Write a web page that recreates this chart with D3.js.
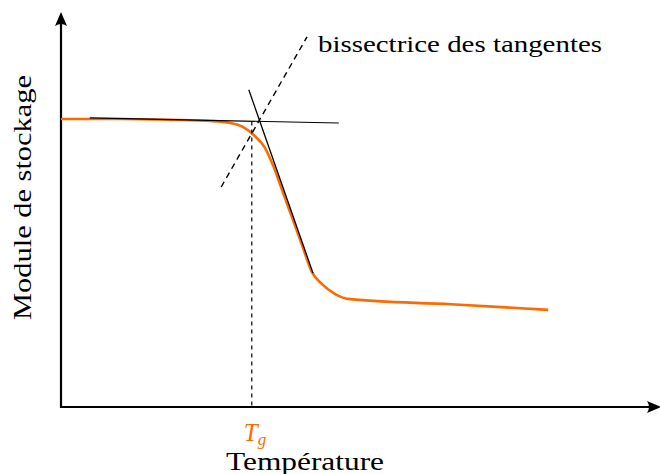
<!DOCTYPE html>
<html><head><meta charset="utf-8">
<script src="https://cdn.jsdelivr.net/npm/d3@7"></script>
<style>body{margin:0;background:#fff}svg{display:block}text{font-family:"Liberation Serif","Times New Roman",Times,serif}</style>
</head><body>
<svg id="c" width="660" height="474"></svg>
<script>
// Data (arbitrary units: temperature 0..10, modulus 0..10)
const curveX = [0, 1.0, 1.82, 2.5, 2.82, 3.03, 3.23, 3.40, 3.53, 3.70, 3.85, 4.02, 4.18, 4.35, 4.57, 4.82, 6.5, 8.12];
const curveY = [7.29, 7.29, 7.27, 7.24, 7.19, 7.09, 6.86, 6.56, 6.13, 5.43, 4.80, 4.09, 3.42, 3.11, 2.86, 2.73, 2.60, 2.46];
const tangent1X = [0.48, 4.63], tangent1Y = [7.32, 7.19];
const tangent2X = [3.13, 4.20], tangent2Y = [8.03, 3.39];
const bisectX = [2.67, 4.10], bisectY = [5.57, 9.37];
const tgX = 3.18, tgY = 7.23;
const xLabel = "Température", yLabel = "Module de stockage";
const bisectLabel = "bissectrice des tangentes";

const svg = d3.select("#c");
const x = d3.scaleLinear().domain([0, 10]).range([61, 661]);
const y = d3.scaleLinear().domain([0, 10]).range([407, 12]);
const orange = "#ff6a00";

// axes
svg.append("line").attr("x1", x(0)).attr("x2", x(10) - 6).attr("y1", y(0)).attr("y2", y(0))
  .attr("stroke", "#000").attr("stroke-width", 2.2);
svg.append("line").attr("x1", x(0)).attr("x2", x(0)).attr("y1", y(0) + 1).attr("y2", y(10) + 6)
  .attr("stroke", "#000").attr("stroke-width", 2.2);
// arrow heads (stealth)
const ax = x(10), ay = y(0);
svg.append("path").attr("d", `M${ax},${ay} L${ax-14},${ay-6} Q${ax-10},${ay} ${ax-14},${ay+6} Z`).attr("fill", "#000");
const bx = x(0), by = y(10);
svg.append("path").attr("d", `M${bx},${by} L${bx-6},${by+14} Q${bx},${by+10} ${bx+6},${by+14} Z`).attr("fill", "#000");

// curve
const pts = curveX.map((d, i) => [d, curveY[i]]);
svg.append("path").datum(pts)
  .attr("d", d3.line().x(d => x(d[0])).y(d => y(d[1])).curve(d3.curveMonotoneX))
  .attr("fill", "none").attr("stroke", orange).attr("stroke-width", 2.6);

// tangents
svg.append("line").attr("x1", x(tangent1X[0])).attr("y1", y(tangent1Y[0])).attr("x2", x(tangent1X[1])).attr("y2", y(tangent1Y[1]))
  .attr("stroke", "#000").attr("stroke-width", 1.2);
svg.append("line").attr("x1", x(tangent2X[0])).attr("y1", y(tangent2Y[0])).attr("x2", x(tangent2X[1])).attr("y2", y(tangent2Y[1]))
  .attr("stroke", "#000").attr("stroke-width", 1.3);
// bisector
svg.append("line").attr("x1", x(bisectX[0])).attr("y1", y(bisectY[0])).attr("x2", x(bisectX[1])).attr("y2", y(bisectY[1]))
  .attr("stroke", "#000").attr("stroke-width", 1.4).attr("stroke-dasharray", "6,4.5");
// vertical Tg
svg.append("line").attr("x1", x(tgX)).attr("x2", x(tgX)).attr("y1", y(tgY)).attr("y2", y(0))
  .attr("stroke", "#000").attr("stroke-width", 1.2).attr("stroke-dasharray", "4,4");

// labels
svg.append("text").attr("x", 318).attr("y", 52).attr("font-size", 24)
  .attr("textLength", 284).attr("lengthAdjust", "spacingAndGlyphs").text(bisectLabel);
svg.append("text").attr("x", 226).attr("y", 470).attr("font-size", 25)
  .attr("textLength", 158).attr("lengthAdjust", "spacingAndGlyphs").text(xLabel);
svg.append("text").attr("transform", "translate(31,320) rotate(-90)").attr("font-size", 25)
  .attr("textLength", 245).attr("lengthAdjust", "spacingAndGlyphs").text(yLabel);
const tg = svg.append("text").attr("x", x(tgX) - 8).attr("y", 441)
  .attr("font-size", 25).attr("font-style", "italic").attr("fill", orange);
tg.append("tspan").text("T");
tg.append("tspan").attr("dy", 4).attr("font-size", 17).text("g");
</script>
</body></html>
